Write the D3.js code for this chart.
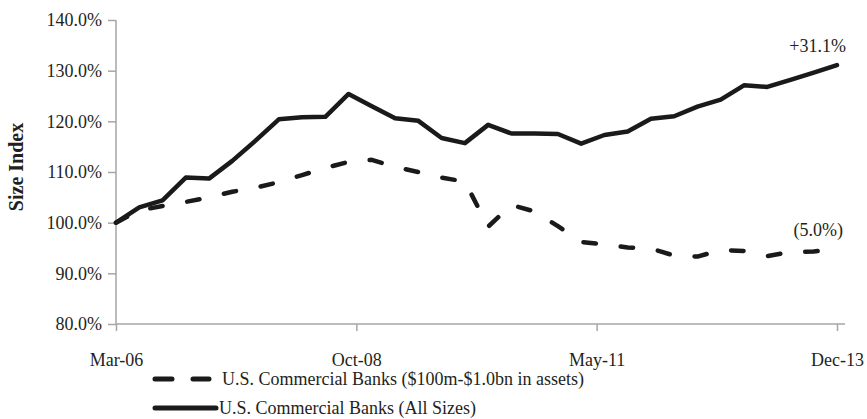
<!DOCTYPE html>
<html>
<head>
<meta charset="utf-8">
<script src="https://cdn.jsdelivr.net/npm/d3@7/dist/d3.min.js"></script>
<style>
  html, body { margin: 0; padding: 0; background: #fff; }
  svg { display: block; }
  text { font-family: "Liberation Serif", "Times New Roman", serif; fill: #231f20; }
</style>
</head>
<body>
<script>
// Quarterly observations, Mar-06 .. Dec-13 (months offset from Mar-06)
const quarters = ["Mar-06","Jun-06","Sep-06","Dec-06","Mar-07","Jun-07","Sep-07","Dec-07",
  "Mar-08","Jun-08","Sep-08","Dec-08","Mar-09","Jun-09","Sep-09","Dec-09",
  "Mar-10","Jun-10","Sep-10","Dec-10","Mar-11","Jun-11","Sep-11","Dec-11",
  "Mar-12","Jun-12","Sep-12","Dec-12","Mar-13","Jun-13","Sep-13","Dec-13"];
const monthOffsets = [0,3,6,9,12,15,18,21,24,27,30,33,36,39,42,45,48,51,54,57,60,63,66,69,72,75,78,81,84,87,90,93];

const allSizes = [100.0,103.0,104.4,108.9,108.7,112.2,116.2,120.4,120.8,120.9,125.4,123.0,
  120.6,120.1,116.7,115.7,119.3,117.6,117.6,117.5,115.6,117.3,118.0,120.5,
  121.0,122.9,124.3,127.1,126.8,128.2,129.6,131.1];
const smallBanks = [100.0,102.4,103.3,104.1,105.0,106.1,106.9,108.0,109.4,110.8,112.0,112.4,
  111.0,110.0,108.9,108.1,99.2,103.5,102.2,99.3,96.2,95.7,95.1,94.9,
  93.5,93.3,94.6,94.4,93.4,94.2,94.3,94.9];

const xTickMonths = [0, 31, 62, 93];
const xTickLabels = ["Mar-06", "Oct-08", "May-11", "Dec-13"];
const yTicks = [80, 90, 100, 110, 120, 130, 140];

const seriesNames = ["U.S. Commercial Banks ($100m-$1.0bn in assets)", "U.S. Commercial Banks (All Sizes)"];
const endLabels = ["(5.0%)", "+31.1%"];
const yTitle = "Size Index";

const W = 867, H = 419;
const svg = d3.select("body").append("svg").attr("width", W).attr("height", H);

const x = d3.scaleLinear().domain([0, 93]).range([116, 837]);
const y = d3.scaleLinear().domain([80, 140]).range([324, 20]);

const axisColor = "#a6a6a6";

// Y axis
const gy = svg.append("g").attr("transform", "translate(116,0)")
  .call(d3.axisLeft(y).tickValues(yTicks).tickSize(8).tickPadding(6)
    .tickFormat(d => d.toFixed(1) + "%"));
gy.select(".domain").attr("stroke", axisColor).attr("stroke-width", 1.5).attr("d", "M0,20V324");
gy.selectAll(".tick line").attr("stroke", axisColor).attr("stroke-width", 1.5);
gy.selectAll(".tick text").attr("font-size", 18).attr("fill", "#231f20")
  .style("font-family", '"Liberation Serif", "Times New Roman", serif');

// X axis
const gx = svg.append("g").attr("transform", "translate(0,324)")
  .call(d3.axisBottom(x).tickValues(xTickMonths).tickSize(7).tickPadding(22)
    .tickFormat((d, i) => xTickLabels[i]));
gx.select(".domain").attr("stroke", axisColor).attr("stroke-width", 1.5).attr("d", "M116,0H845");
gx.selectAll(".tick line").attr("stroke", axisColor).attr("stroke-width", 1.5);
gx.selectAll(".tick text").attr("font-size", 18).attr("fill", "#231f20")
  .style("font-family", '"Liberation Serif", "Times New Roman", serif');

// Y title
svg.append("text")
  .attr("transform", "translate(23,167) rotate(-90)")
  .attr("text-anchor", "middle")
  .attr("font-size", 20).attr("font-weight", "bold")
  .text(yTitle);

const line = d3.line().x((d, i) => x(monthOffsets[i])).y(d => y(d));

svg.append("path").datum(smallBanks)
  .attr("d", line).attr("fill", "none").attr("stroke", "#1a1a1a")
  .attr("stroke-width", 4.5).attr("stroke-linecap", "round").attr("stroke-linejoin", "round")
  .attr("stroke-dasharray", "12.5,25");

svg.append("path").datum(allSizes)
  .attr("d", line).attr("fill", "none").attr("stroke", "#1a1a1a")
  .attr("stroke-width", 4.5).attr("stroke-linecap", "round").attr("stroke-linejoin", "round");

// End labels
svg.append("text").attr("x", 843).attr("y", 236).attr("text-anchor", "end")
  .attr("font-size", 18).text(endLabels[0]);
svg.append("text").attr("x", 846).attr("y", 52).attr("text-anchor", "end")
  .attr("font-size", 18).text(endLabels[1]);

// Legend
const lg = svg.append("g");
lg.append("line").attr("x1", 155).attr("x2", 209).attr("y1", 379).attr("y2", 379)
  .attr("stroke", "#1a1a1a").attr("stroke-width", 5).attr("stroke-linecap", "round")
  .attr("stroke-dasharray", "17,21");
lg.append("text").attr("x", 222).attr("y", 385).attr("font-size", 18).text(seriesNames[0]);
lg.append("line").attr("x1", 155).attr("x2", 216).attr("y1", 408).attr("y2", 408)
  .attr("stroke", "#1a1a1a").attr("stroke-width", 5).attr("stroke-linecap", "round");
lg.append("text").attr("x", 219).attr("y", 414).attr("font-size", 18).text(seriesNames[1]);
</script>
</body>
</html>
